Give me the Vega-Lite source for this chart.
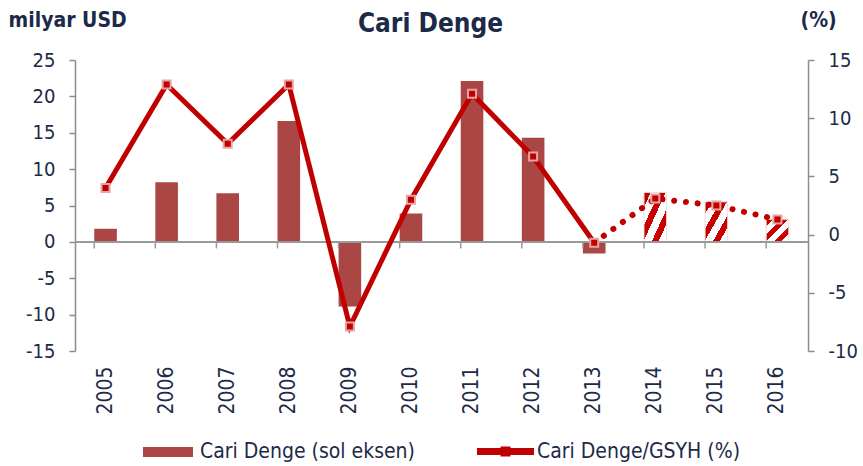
{
  "$schema": "https://vega.github.io/schema/vega-lite/v6.json",
  "width": 733,
  "height": 291,
  "autosize": {"type": "none"},
  "padding": {"left": 75, "top": 60, "right": 55, "bottom": 115},
  "background": "white",
  "title": {
    "text": "Cari Denge",
    "font": "DejaVu Sans Condensed",
    "fontWeight": "bold",
    "fontSize": 26,
    "color": "#1C2A48",
    "anchor": "middle",
    "frame": "group",
    "dx": -11,
    "dy": 32
  },
  "config": {
    "view": {"stroke": null},
    "font": "DejaVu Sans Condensed",
    "axis": {"labelOverlap": false}
  },
  "data": {
    "values": [
      {"year": "2005", "usd": 1.8, "pct": 4.0},
      {"year": "2006", "usd": 8.2, "pct": 12.9},
      {"year": "2007", "usd": 6.7, "pct": 7.8},
      {"year": "2008", "usd": 16.6, "pct": 12.9},
      {"year": "2009", "usd": -8.9, "pct": -7.9},
      {"year": "2010", "usd": 3.9, "pct": 3.0},
      {"year": "2011", "usd": 22.1, "pct": 12.1},
      {"year": "2012", "usd": 14.3, "pct": 6.7},
      {"year": "2013", "usd": -1.6, "pct": -0.7},
      {"year": "2014", "usd": 6.8, "pct": 3.1},
      {"year": "2015", "usd": 5.5, "pct": 2.5},
      {"year": "2016", "usd": 3.1, "pct": 1.3}
    ]
  },
  "layer": [
    {
      "layer": [
        {
          "transform": [{"filter": "datum.year <= '2013'"}],
          "mark": {"type": "bar"},
          "encoding": {
            "x": {
              "field": "year", "type": "nominal", "title": null,
              "scale": {"paddingInner": 0.63, "paddingOuter": 0.315},
              "axis": {
                "labelAngle": -90, "labelFont": "DejaVu Sans Condensed", "labelFontSize": 21,
                "labelColor": "#1C2A48", "domain": false, "ticks": false, "labelPadding": 15, "grid": false
              }
            },
            "y": {
              "field": "usd", "type": "quantitative", "title": "milyar USD",
              "scale": {"domain": [-15, 25], "nice": false, "zero": false},
              "axis": {
                "values": [-15, -10, -5, 0, 5, 10, 15, 20, 25],
                "tickCount": 20,
                "labelOverlap": false,
                "labelExpr": "datum.value < 0 ? '-' + abs(datum.value) : '' + datum.value",
                "grid": false, "domainColor": "#8C8C8C", "domainWidth": 1.5,
                "tickColor": "#8C8C8C", "tickWidth": 1.5, "tickSize": 6,
                "labelFont": "DejaVu Sans Condensed", "labelFontSize": 20, "labelColor": "#1C2A48", "labelPadding": 14,
                "titleAngle": 0, "titleX": -67, "titleY": -34, "titleAlign": "left", "titleBaseline": "alphabetic",
                "titleFont": "DejaVu Sans Condensed", "titleFontWeight": "bold", "titleFontSize": 21, "titleColor": "#1C2A48"
              }
            },
            "color": {
              "datum": "Cari Denge (sol eksen)",
              "scale": {"range": ["#AA4644"]},
              "legend": {
                "orient": "none", "legendX": 68, "legendY": 367, "title": null,
                "symbolType": "M-1,-0.2H1V0.2H-1Z", "symbolSize": 2500, "symbolStrokeWidth": 0,
                "labelFont": "DejaVu Sans Condensed", "labelFontSize": 21, "labelColor": "#1C2A48", "labelOffset": 7,
                "labelLimit": 400
              }
            }
          }
        },
        {
          "transform": [{"filter": "datum.year >= '2014'"}],
          "mark": {
            "type": "bar",
            "stroke": "#F2DADA",
            "strokeWidth": 1,
            "color": {
              "gradient": "linear", "x1": 0, "y1": 0, "x2": 1, "y2": 1,
              "stops": [
                {"offset": 0, "color": "#C80000"},
                {"offset": 0.15, "color": "#C80000"},
                {"offset": 0.15, "color": "#FFFFFF"},
                {"offset": 0.333, "color": "#FFFFFF"},
                {"offset": 0.333, "color": "#C80000"},
                {"offset": 0.483, "color": "#C80000"},
                {"offset": 0.483, "color": "#FFFFFF"},
                {"offset": 0.667, "color": "#FFFFFF"},
                {"offset": 0.667, "color": "#C80000"},
                {"offset": 0.817, "color": "#C80000"},
                {"offset": 0.817, "color": "#FFFFFF"},
                {"offset": 1, "color": "#FFFFFF"}
              ]
            }
          },
          "encoding": {
            "x": {"field": "year", "type": "nominal", "title": null},
            "y": {"field": "usd", "type": "quantitative", "title": "milyar USD", "axis": {"labelOverlap": false, "tickCount": 20}}
          }
        },
        {
          "mark": {"type": "rule", "color": "#999999", "strokeWidth": 2},
          "encoding": {"y": {"datum": 0, "type": "quantitative", "axis": {"labelOverlap": false, "tickCount": 20}}}
        },
        {
          "mark": {"type": "rule", "color": "#999999", "strokeWidth": 1.5},
          "encoding": {
            "x": {"field": "year", "type": "nominal", "bandPosition": 0, "title": null},
            "y": {"datum": 0, "type": "quantitative", "axis": {"labelOverlap": false, "tickCount": 20}},
            "y2": {"datum": -0.9}
          }
        }
      ]
    },
    {
      "layer": [
        {
          "transform": [{"filter": "datum.year <= '2013'"}],
          "mark": {"type": "line", "color": "#C00000", "strokeWidth": 5},
          "encoding": {
            "x": {"field": "year", "type": "nominal", "title": null},
            "y": {
              "field": "pct", "type": "quantitative", "title": "(%)",
              "scale": {"domain": [-10, 15], "nice": false, "zero": false},
              "axis": {
                "orient": "right",
                "values": [-10, -5, 0, 5, 10, 15],
                "tickCount": 20,
                "labelOverlap": false,
                "labelExpr": "datum.value < 0 ? '-' + abs(datum.value) : '' + datum.value",
                "grid": false, "domainColor": "#8C8C8C", "domainWidth": 1.5,
                "tickColor": "#8C8C8C", "tickWidth": 1.5, "tickSize": 6,
                "labelFont": "DejaVu Sans Condensed", "labelFontSize": 20, "labelColor": "#1C2A48", "labelPadding": 14,
                "titleAngle": 0, "titleX": -8, "titleY": -34, "titleAlign": "left", "titleBaseline": "alphabetic",
                "titleFont": "DejaVu Sans Condensed", "titleFontWeight": "bold", "titleFontSize": 21, "titleColor": "#1C2A48"
              }
            }
          }
        },
        {
          "transform": [{"filter": "datum.year >= '2013'"}],
          "mark": {"type": "line", "color": "#C00000", "strokeWidth": 6, "strokeDash": [0.1, 11.7], "strokeCap": "round"},
          "encoding": {
            "x": {"field": "year", "type": "nominal", "title": null},
            "y": {"field": "pct", "type": "quantitative", "title": "(%)"}
          }
        },
        {
          "mark": {"type": "point", "shape": "square", "filled": true, "size": 64, "stroke": "#E9A3A3", "strokeWidth": 2, "opacity": 1},
          "encoding": {
            "x": {"field": "year", "type": "nominal", "title": null},
            "y": {"field": "pct", "type": "quantitative", "title": "(%)"},
            "fill": {
              "datum": "Cari Denge/GSYH (%)",
              "scale": {"range": ["#C00000"]},
              "legend": {
                "orient": "none", "legendX": 402, "legendY": 363, "title": null,
                "symbolType": "M-1,-0.123H1V0.123H-1Z M-0.175,-0.175H0.175V0.175H-0.175Z", "symbolSize": 3249, "symbolStrokeWidth": 0,
                "symbolFillColor": "#C00000", "symbolOpacity": 1,
                "labelFont": "DejaVu Sans Condensed", "labelFontSize": 21, "labelColor": "#1C2A48", "labelOffset": 3,
                "labelLimit": 400
              }
            }
          }
        }
      ]
    }
  ],
  "resolve": {"scale": {"y": "independent"}}
}
